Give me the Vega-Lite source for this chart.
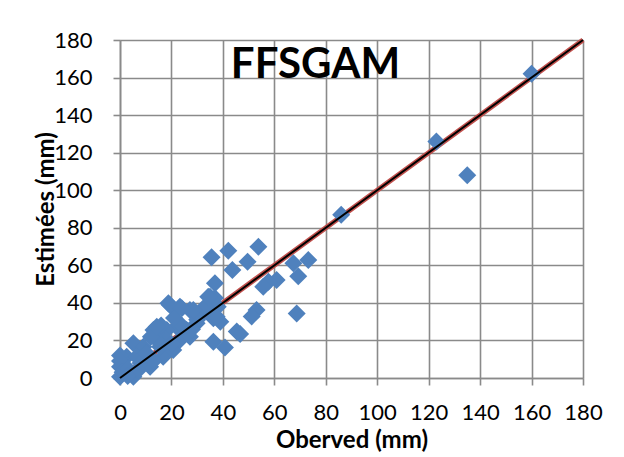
{
  "$schema": "https://vega.github.io/schema/vega-lite/v6.json",
  "autosize": {"type": "none"},
  "padding": {"left": 120, "top": 40, "right": 41, "bottom": 79},
  "width": 463,
  "height": 338,
  "background": "white",
  "datasets": {
    "pts": [
      {"obs": 160, "est": 162}, {"obs": 123, "est": 126}, {"obs": 135, "est": 108}, {"obs": 86, "est": 87},
      {"obs": 35.6, "est": 64.3}, {"obs": 42.1, "est": 67.8}, {"obs": 53.8, "est": 69.9}, {"obs": 49.6, "est": 61.9},
      {"obs": 43.7, "est": 57.5}, {"obs": 36.9, "est": 50.4}, {"obs": 67.4, "est": 61.1}, {"obs": 73.2, "est": 62.8},
      {"obs": 69.3, "est": 54.2}, {"obs": 60.9, "est": 52.2}, {"obs": 57.7, "est": 51.3}, {"obs": 55.7, "est": 48.6},
      {"obs": 53.1, "est": 36.2}, {"obs": 51.2, "est": 32.8}, {"obs": 68.7, "est": 34.4}, {"obs": 46.7, "est": 23.4},
      {"obs": 36.3, "est": 19.3}, {"obs": 40.8, "est": 16.3},
      {"obs": 18.8, "est": 39.8}, {"obs": 23.3, "est": 38}, {"obs": 27.2, "est": 36.2}, {"obs": 35, "est": 43.3},
      {"obs": 36.9, "est": 42.6}, {"obs": 36.3, "est": 31.8}, {"obs": 35, "est": 36.2}, {"obs": 31.1, "est": 34.4},
      {"obs": 29.8, "est": 29.1}, {"obs": 25.9, "est": 25.6}, {"obs": 22, "est": 27.3}, {"obs": 18.2, "est": 25.6},
      {"obs": 13, "est": 25.6}, {"obs": 5.2, "est": 18.5}, {"obs": 2.6, "est": 11.3}, {"obs": 0, "est": 6},
      {"obs": 0, "est": 0.7}, {"obs": 5.2, "est": 0.7}, {"obs": 11.7, "est": 6}, {"obs": 16.8, "est": 11.3},
      {"obs": 20.7, "est": 14.9}, {"obs": 23.3, "est": 20.2}, {"obs": 27.2, "est": 22}, {"obs": 9.1, "est": 16.7},
      {"obs": 6.5, "est": 11.3}, {"obs": 15.6, "est": 16.7}, {"obs": 11.7, "est": 11.3}, {"obs": 17.5, "est": 21.1},
      {"obs": 14.3, "est": 20.2}, {"obs": 0, "est": 12}, {"obs": 0, "est": 9}, {"obs": 1, "est": 3},
      {"obs": 3, "est": 5}, {"obs": 8, "est": 8}, {"obs": 10, "est": 13}, {"obs": 20, "est": 18},
      {"obs": 24, "est": 28}, {"obs": 30, "est": 31}, {"obs": 14, "est": 24}, {"obs": 12, "est": 22},
      {"obs": 38, "est": 38}, {"obs": 39, "est": 30}, {"obs": 33, "est": 38}, {"obs": 28, "est": 26},
      {"obs": 21, "est": 32}, {"obs": 16, "est": 28}, {"obs": 7, "est": 4}, {"obs": 3, "est": 1},
      {"obs": 13, "est": 9}, {"obs": 34.3, "est": 43.3}, {"obs": 19.4, "est": 38.9}, {"obs": 28.5, "est": 36.2},
      {"obs": 37.6, "est": 32.6}, {"obs": 45.4, "est": 24.7}, {"obs": 14.3, "est": 27.3}, {"obs": 24, "est": 37.1}
    ],
    "line": [{"obs": 0, "est": 0}, {"obs": 180, "est": 180}],
    "lab": [{"name": "FFSGAM", "obs": 76, "est": 160}]
  },
  "config": {
    "view": {"stroke": null},
    "axis": {
      "gridColor": "#8a8a8a", "gridWidth": 1.6, "domainColor": "#8a8a8a", "domainWidth": 1.6,
      "tickColor": "#8a8a8a", "tickWidth": 1.6, "tickSize": 7, "labelOverlap": false,
      "labelFont": "Lato", "labelFontSize": 22, "labelColor": "black",
      "titleFont": "Lato", "titleFontSize": 24, "titleFontWeight": "bold", "titleColor": "black"
    }
  },
  "encoding": {
    "x": {"field": "obs", "type": "quantitative", "scale": {"domain": [0, 180], "nice": false},
          "axis": {"values": [0, 20, 40, 60, 80, 100, 120, 140, 160, 180], "title": "Oberved (mm)", "labelPadding": 17, "titlePadding": 5, "labelFlush": false, "labelOverlap": false}},
    "y": {"field": "est", "type": "quantitative", "scale": {"domain": [0, 180], "nice": false},
          "axis": {"values": [0, 20, 40, 60, 80, 100, 120, 140, 160, 180], "title": "Estimées (mm)", "labelPadding": 21, "titleX": -62, "labelFlush": false, "labelOverlap": false, "labelBound": false}}
  },
  "layer": [
    {
      "data": {"name": "line"},
      "mark": {"type": "line", "color": "#C0504D", "strokeWidth": 5}
    },
    {
      "data": {"name": "pts"},
      "mark": {"type": "point", "shape": "diamond", "filled": true, "size": 324, "color": "#4F81BD", "opacity": 1}
    },
    {
      "data": {"name": "line"},
      "mark": {"type": "line", "color": "black", "strokeWidth": 2}
    },
    {
      "data": {"name": "lab"},
      "mark": {"type": "text", "font": "Lato", "fontSize": 42, "fontWeight": "bold", "color": "black", "baseline": "alphabetic", "align": "center"},
      "encoding": {
        "text": {"field": "name"}
      }
    }
  ]
}
